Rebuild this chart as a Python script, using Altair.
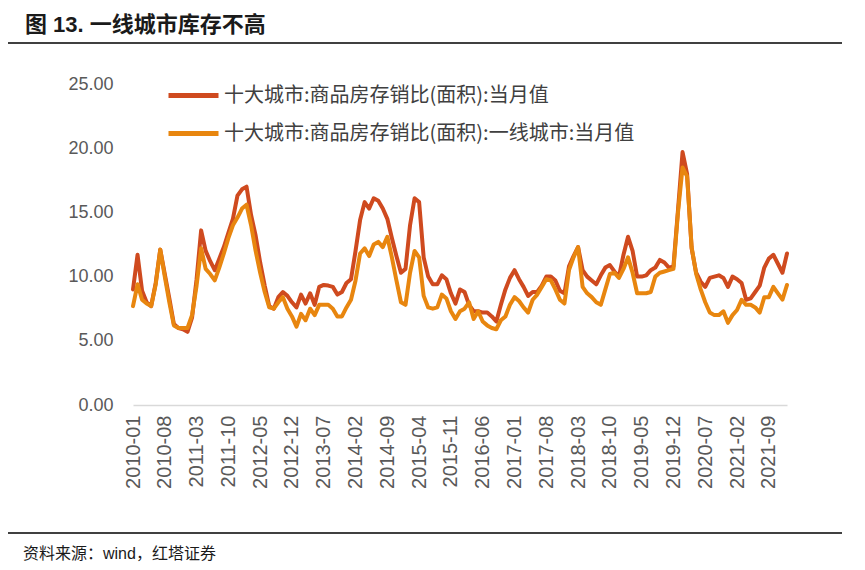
import altair as alt
import pandas as pd

# Monthly data 2010-01 .. 2022-01
start_year = 2010
n_months = 145
months = [f"{start_year + i // 12}-{i % 12 + 1:02d}" for i in range(n_months)]

series_names = [
    "十大城市:商品房存销比(面积):当月值",
    "十大城市:商品房存销比(面积):一线城市:当月值",
]

ten_cities = [
    9.0, 11.7, 8.9, 8.0, 7.7, 9.5, 12.1, 10.2, 8.3, 6.3, 6.0, 5.9,
    5.7, 6.8, 9.8, 13.6, 12.0, 11.2, 10.5, 11.4, 12.3, 13.4, 14.5, 16.3,
    16.8, 17.0, 14.8, 13.2, 11.1, 9.3, 7.7, 7.5, 8.4, 8.8, 8.5, 8.0,
    7.6, 8.6, 7.9, 8.7, 7.8, 9.2, 9.35, 9.3, 9.2, 8.6, 8.8, 9.5,
    9.8, 12.0, 14.4, 15.8, 15.3, 16.1, 15.9, 15.3, 14.5, 13.0, 11.6, 10.3,
    10.6, 14.0, 16.1, 15.8, 11.5, 10.0, 9.4, 9.4, 10.1, 9.8, 8.7, 7.9,
    9.0, 8.8, 7.8, 7.3, 7.3, 7.2, 7.2, 6.9, 6.5, 7.8, 9.0, 9.9,
    10.5, 9.8, 9.2, 8.5, 8.8, 8.8, 9.3, 10.0, 10.0, 9.7, 8.9, 8.7,
    10.8, 11.6, 12.3, 10.5, 10.0, 9.7, 9.4, 10.1, 10.7, 10.9, 10.4, 10.0,
    11.7, 13.1, 12.0, 10.0, 10.0, 10.1, 10.5, 10.7, 11.3, 11.1, 10.7, 10.8,
    15.2, 19.7, 18.0, 12.2, 10.3, 9.6, 9.2, 9.9, 10.0, 10.1, 9.9, 9.2,
    10.0, 9.8, 9.5, 8.2, 8.3, 8.8, 9.3, 10.7, 11.4, 11.7, 11.0, 10.3,
    11.8,
]

tier1 = [
    7.7, 9.4, 8.2, 7.9, 7.7, 9.4, 12.1, 10.0, 8.0, 6.2, 6.0, 6.0,
    6.0, 7.0, 9.3, 12.2, 10.6, 10.2, 9.7, 10.7, 11.8, 13.0, 14.0, 14.6,
    15.3, 15.6, 14.0, 12.0, 10.3, 8.8, 7.6, 7.5, 8.0, 8.4, 7.5, 6.9,
    6.1, 7.1, 6.6, 7.5, 7.0, 7.8, 7.8, 7.8, 7.5, 6.9, 6.9, 7.6,
    8.2, 9.7, 11.8, 12.2, 11.6, 12.5, 12.7, 12.3, 13.1, 11.5, 9.7, 8.0,
    7.8, 10.3, 12.0, 11.5, 8.5, 7.6, 7.5, 7.6, 8.6, 8.3, 7.3, 6.7,
    7.3, 7.5, 8.0, 6.7, 7.3, 6.5, 6.2, 6.0, 5.9, 6.6, 6.9, 7.8,
    8.4, 8.1, 7.6, 7.2, 8.2, 8.6, 9.2, 9.8, 9.7, 9.0, 8.2, 7.9,
    10.5, 11.5, 12.3, 9.2, 8.7, 8.4, 8.0, 7.8, 9.0, 10.2, 10.3, 9.9,
    10.6, 11.5, 10.3, 8.7, 8.7, 8.7, 8.8, 10.0, 10.3, 10.4, 10.5, 10.6,
    15.0, 18.5, 17.8, 12.3, 10.2, 9.0, 8.0, 7.2, 7.0, 7.0, 7.3, 6.4,
    7.0, 7.4, 8.2, 7.8, 7.8, 7.6, 7.2, 8.4, 8.4, 9.2, 8.7, 8.2,
    9.35,
]

tick_labels = months[::7]
y_ticks = [0, 5, 10, 15, 20, 25]

title_text = "图 13. 一线城市库存不高"
source_text = "资料来源：wind，红塔证券"

colors = ["#CF4A1F", "#E8860F"]

df = pd.DataFrame({
    "month": months * 2,
    "value": ten_cities + tier1,
    "series": [series_names[0]] * n_months + [series_names[1]] * n_months,
})

W, H = 654, 321

lines = alt.Chart(df).mark_line(strokeWidth=4, strokeJoin="round", strokeCap="round").encode(
    x=alt.X("month:O", sort=months,
            scale=alt.Scale(type="point", padding=0, domain=months),
            axis=alt.Axis(values=tick_labels, title=None, labelAngle=270,
                          labelFont="Liberation Sans", labelFontSize=20,
                          labelColor="#595959", labelPadding=10,
                          ticks=False, domainColor="#D9D9D9", domainWidth=1.5,
                          labelOverlap=False)),
    y=alt.Y("value:Q",
            scale=alt.Scale(domain=[0, 25], nice=False, zero=True),
            axis=alt.Axis(values=y_ticks, format=".2f", title=None, grid=False,
                          domain=False, ticks=False, labelFont="Liberation Sans",
                          labelFontSize=18, labelColor="#595959", labelPadding=20)),
    color=alt.Color("series:N",
                    scale=alt.Scale(domain=series_names, range=colors),
                    legend=alt.Legend(orient="none", legendX=33, legendY=-16,
                                      title=None, symbolType="stroke",
                                      symbolSize=2500, symbolStrokeWidth=5,
                                      labelFont="Noto Sans CJK SC", labelFontSize=20,
                                      labelColor="#404040", labelLimit=0,
                                      rowPadding=-4, labelOffset=3)),
    order=alt.Order("series:N", sort="descending"),
)

one = pd.DataFrame({"a": [0]})

title_mark = alt.Chart(one).mark_text(
    text=title_text, align="left", baseline="alphabetic",
    font="Liberation Sans, Noto Sans CJK SC",
    fontSize=22, fontWeight="bold", color="#1a1a1a"
).encode(x=alt.value(-108), y=alt.value(-52))

source_mark = alt.Chart(one).mark_text(
    text=source_text, align="left", baseline="middle",
    font="Liberation Sans, Noto Sans CJK SC",
    fontSize=16, color="#1a1a1a"
).encode(x=alt.value(-110), y=alt.value(470))

top_rule = alt.Chart(one).mark_rule(color="#404040", strokeWidth=2).encode(
    x=alt.value(-125), x2=alt.value(709), y=alt.value(-41))
bottom_rule = alt.Chart(one).mark_rule(color="#404040", strokeWidth=2).encode(
    x=alt.value(-125), x2=alt.value(709), y=alt.value(449))

chart = alt.layer(lines, title_mark, source_mark, top_rule, bottom_rule).properties(
    width=W, height=H,
    autosize=alt.AutoSizeParams(type="none"),
    padding={"left": 125, "top": 76, "right": 60, "bottom": 160},
).configure_view(stroke=None)

chart.save("out.html", embed_options={"renderer": "svg", "actions": False})
